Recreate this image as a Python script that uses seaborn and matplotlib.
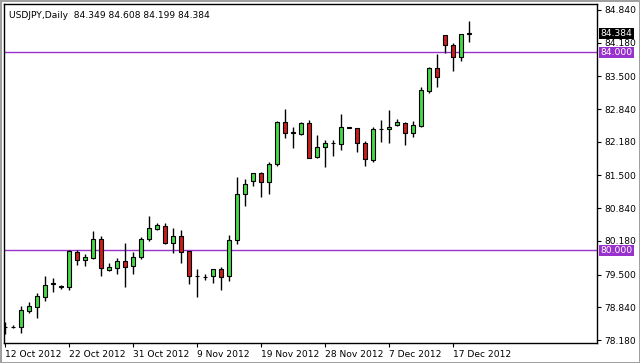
import numpy as np
import pandas as pd
import matplotlib
matplotlib.use("Agg")
import matplotlib.pyplot as plt
import matplotlib.transforms as mtransforms
import seaborn as sns

# daily USDJPY candles, 12 Oct 2012 .. 19 Dec 2012 (broker feed incl. Sunday bars)
opens = [78.44, 78.44, 78.45, 78.77, 78.85, 79.05, 79.32, 79.25, 79.24, 79.96,
         79.80, 79.84, 80.21, 79.59, 79.64, 79.77, 79.67, 79.85, 80.21, 80.42,
         80.49, 80.14, 80.28, 79.97, 79.47, 79.46, 79.47, 79.61, 79.47, 80.20,
         81.12, 81.39, 81.54, 81.36, 81.73, 82.57, 82.36, 82.33, 82.55, 81.87,
         82.08, 82.15, 82.13, 82.46, 82.45, 82.16, 81.81, 82.43, 82.43, 82.51,
         82.55, 82.35, 82.50, 83.21, 83.66, 84.34, 84.13, 83.90, 84.349]
highs = [78.54, 78.48, 78.87, 78.95, 79.13, 79.47, 79.43, 79.30, 80.00, 80.00,
         79.91, 80.38, 80.28, 79.73, 79.83, 80.14, 79.96, 80.26, 80.68, 80.55,
         80.55, 80.45, 80.40, 79.98, 79.61, 79.51, 79.61, 79.65, 80.30, 81.46,
         81.42, 81.56, 81.58, 81.78, 82.59, 82.84, 82.47, 82.58, 82.61, 82.32,
         82.22, 82.22, 82.74, 82.47, 82.46, 82.20, 82.47, 82.62, 82.82, 82.63,
         82.57, 82.59, 83.29, 83.68, 83.95, 84.34, 84.17, 84.35, 84.608]
lows = [78.30, 78.42, 78.32, 78.72, 78.62, 78.97, 79.14, 79.21, 79.19, 79.69,
        79.68, 79.81, 79.47, 79.57, 79.51, 79.26, 79.51, 79.81, 80.18, 80.40,
        80.12, 79.94, 79.74, 79.32, 79.05, 79.39, 79.34, 79.19, 79.38, 80.11,
        80.89, 81.29, 81.07, 81.12, 81.70, 82.25, 82.05, 82.32, 81.85, 81.86,
        81.68, 81.90, 82.01, 82.45, 81.98, 81.69, 81.78, 82.18, 82.16, 82.49,
        82.12, 82.28, 82.47, 83.17, 83.29, 83.97, 83.60, 83.80, 84.199]
closes = [78.45, 78.45, 78.79, 78.87, 79.07, 79.30, 79.33, 79.26, 79.98, 79.80,
          79.85, 80.21, 79.63, 79.65, 79.77, 79.66, 79.85, 80.21, 80.45, 80.50,
          80.14, 80.28, 79.96, 79.48, 79.48, 79.46, 79.61, 79.46, 80.20, 81.12,
          81.32, 81.54, 81.36, 81.73, 82.57, 82.35, 82.37, 82.55, 81.86, 82.08,
          82.15, 82.16, 82.47, 82.47, 82.15, 81.83, 82.43, 82.44, 82.47, 82.57,
          82.35, 82.52, 83.23, 83.66, 83.49, 84.14, 83.90, 84.349, 84.384]

date_labels = ["12 Oct 2012", "22 Oct 2012", "31 Oct 2012", "9 Nov 2012",
               "19 Nov 2012", "28 Nov 2012", "7 Dec 2012", "17 Dec 2012"]
price_ticks = [84.840, 84.180, 83.500, 82.840, 82.180, 81.500,
               80.840, 80.180, 79.500, 78.840, 78.180]
levels = [84.000, 80.000]
title = "USDJPY,Daily  84.349 84.608 84.199 84.384"

df = pd.DataFrame({"open": opens, "high": highs, "low": lows, "close": closes})
df["bar"] = np.arange(len(df))
df["up"] = df["close"] >= df["open"]

sns.set_theme(style="white")
plt.rcParams["font.family"] = ["DejaVu Sans"]

fig = plt.figure(figsize=(6.4, 3.63), dpi=100)
fig.patch.set_facecolor("white")
fig.patch.set_edgecolor("#a0a0a0")
fig.patch.set_linewidth(2)
ax = fig.add_axes([4 / 640, 1 - 343 / 363, 593 / 640, 339 / 363])

bull = "#46d646"
bear = "#c81e1e"
purple = "#9932cc"
fs = 6.6

ax.vlines(df["bar"], df["low"], df["high"], color="black", lw=1, zorder=2)
ax.bar(df["bar"], df["close"] - df["open"], bottom=df["open"], width=0.62,
       color=np.where(df["up"], bull, bear), edgecolor="black", linewidth=0.8,
       zorder=3)

for lv in levels:
    ax.axhline(lv, color=purple, lw=1, zorder=1)

ax.set_xlim(-0.125, 74)
ax.set_ylim(78.12, 84.96)

ax.set_xticks(np.arange(0, len(df), 8)[:len(date_labels)])
ax.set_xticklabels(date_labels, fontsize=fs, ha="left")
ax.set_yticks(price_ticks)
ax.set_yticklabels([f"{v:.3f}" for v in price_ticks], fontsize=fs)
ax.yaxis.tick_right()
ax.tick_params(axis="x", bottom=True, length=3, width=0.8, pad=2,
               direction="out", colors="black")
ax.tick_params(axis="y", right=True, left=False, length=3, width=0.8, pad=2,
               direction="out", colors="black")
for sp in ax.spines.values():
    sp.set_color("black")
    sp.set_linewidth(1)
ax.grid(False)

# price boxes on the right scale, kept tight so the scale labels stay readable
trans = mtransforms.blended_transform_factory(ax.transAxes, ax.transData)
box_kw = dict(transform=trans, fontsize=fs, color="white", va="center_baseline",
              ha="left", zorder=5, clip_on=False)
ax.text(1.006, closes[-1], f"{closes[-1]:.3f}",
        bbox=dict(boxstyle="square,pad=0.12", fc="black", ec="none"), **box_kw)
for lv in levels:
    ax.text(1.006, lv, f"{lv:.3f}",
            bbox=dict(boxstyle="square,pad=0.12", fc=purple, ec="none"), **box_kw)

ax.text(0.008, 0.967, title, transform=ax.transAxes, fontsize=fs,
        color="black", va="center", ha="left")

fig.savefig("out.png", dpi=100)
